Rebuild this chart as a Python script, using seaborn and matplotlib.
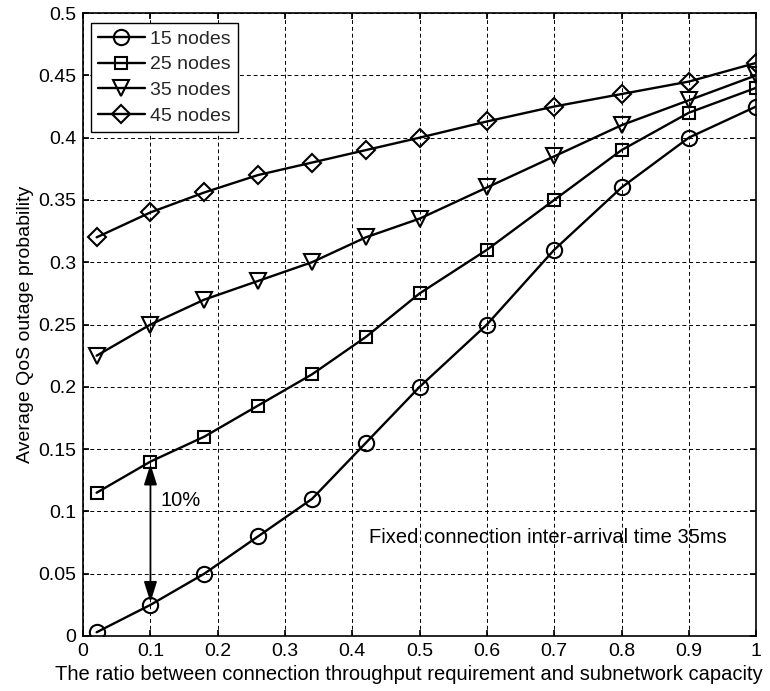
import matplotlib
matplotlib.use("Agg")
import matplotlib.pyplot as plt
import seaborn as sns
import pandas as pd

ratio = [0.02, 0.1, 0.18, 0.26, 0.34, 0.42, 0.5, 0.6, 0.7, 0.8, 0.9, 1.0]
nodes15 = [0.003, 0.025, 0.05, 0.08, 0.11, 0.155, 0.2, 0.25, 0.31, 0.36, 0.40, 0.425]
nodes25 = [0.115, 0.14, 0.16, 0.185, 0.21, 0.24, 0.275, 0.31, 0.35, 0.39, 0.42, 0.44]
nodes35 = [0.225, 0.25, 0.27, 0.285, 0.30, 0.32, 0.335, 0.36, 0.385, 0.41, 0.43, 0.45]
nodes45 = [0.32, 0.34, 0.356, 0.37, 0.38, 0.39, 0.40, 0.413, 0.425, 0.435, 0.445, 0.46]
series_names = ["15 nodes", "25 nodes", "35 nodes", "45 nodes"]
x_ticks = [0, 0.1, 0.2, 0.3, 0.4, 0.5, 0.6, 0.7, 0.8, 0.9, 1]
y_ticks = [0, 0.05, 0.1, 0.15, 0.2, 0.25, 0.3, 0.35, 0.4, 0.45, 0.5]
x_tick_labels = ["0", "0.1", "0.2", "0.3", "0.4", "0.5", "0.6", "0.7", "0.8", "0.9", "1"]
y_tick_labels = ["0", "0.05", "0.1", "0.15", "0.2", "0.25", "0.3", "0.35", "0.4", "0.45", "0.5"]

rows = []
for name, vals in zip(series_names, [nodes15, nodes25, nodes35, nodes45]):
    for xv, yv in zip(ratio, vals):
        rows.append({"ratio": xv, "prob": yv, "series": name})
df = pd.DataFrame(rows)

sns.set_theme(style="white")
plt.rcParams["font.family"] = ["Liberation Sans", "DejaVu Sans"]

fig = plt.figure(figsize=(7.7, 6.91), dpi=100)
ax = fig.add_axes([0.108, 0.0796, 0.874, 0.9015])

sns.lineplot(data=df, x="ratio", y="prob", hue="series", style="series",
             palette=["black"] * 4, markers=["o", "s", "v", "D"], dashes=False,
             markersize=11, markerfacecolor="none", markeredgecolor="black",
             markeredgewidth=1.5, linewidth=1.7, ax=ax)

# per-marker sizes
sizes = {"o": 11, "s": 8.5, "v": 11, "D": 9}
for line in ax.lines:
    m = line.get_marker()
    if m in sizes:
        line.set_markersize(sizes[m])

ax.set_xlim(0, 1)
ax.set_ylim(0, 0.5)
ax.set_xticks(x_ticks)
ax.set_xticklabels(x_tick_labels)
ax.set_yticks(y_ticks)
ax.set_yticklabels(y_tick_labels)
ax.tick_params(direction="in", length=4, labelsize=14, colors="black", pad=5,
               top=True, right=True, bottom=True, left=True)
ax.grid(True, linestyle=(0, (4, 3)), color="black", linewidth=0.7)
for s in ax.spines.values():
    s.set_color("black")
    s.set_linewidth(1.2)

ax.set_xlabel("The ratio between connection throughput requirement and subnetwork capacity",
              fontsize=14.5, color="black")
ax.xaxis.set_label_coords(0.484, -0.047)
ax.set_ylabel("Average QoS outage probability", fontsize=14, color="black", labelpad=3)

ax.annotate("", xy=(0.1, 0.027), xytext=(0.1, 0.138),
            arrowprops=dict(arrowstyle="<|-|>,head_length=0.7,head_width=0.22",
                            color="black", lw=1.3, mutation_scale=18,
                            shrinkA=0, shrinkB=0))
ax.text(0.115, 0.109, "10%", fontsize=14.5, color="black", va="center", ha="left")
ax.text(0.425, 0.0787, "Fixed connection inter-arrival time 35ms", fontsize=14.5,
        color="black", va="center", ha="left")

leg = ax.legend(loc="upper left", bbox_to_anchor=(0.006, 0.99), fontsize=14,
                frameon=True, fancybox=False, edgecolor="black", framealpha=1,
                handlelength=2.4, borderpad=0.35, labelspacing=0.42, handletextpad=0.3,
                borderaxespad=0.2)
leg.get_frame().set_linewidth(1.0)
leg.set_title(None)

fig.savefig("out.png", dpi=100)
